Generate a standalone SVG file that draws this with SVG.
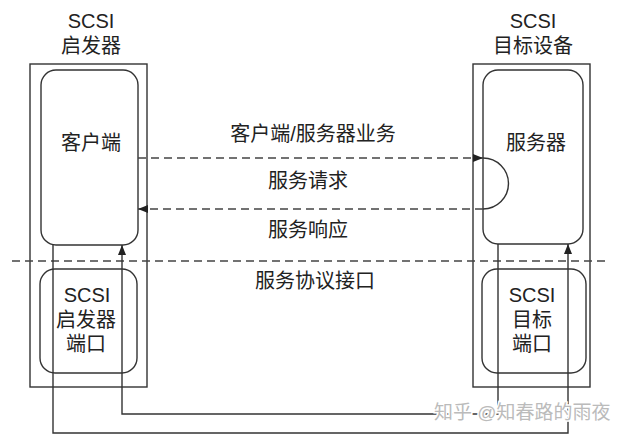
<svg xmlns="http://www.w3.org/2000/svg" width="621" height="438" viewBox="0 0 621 438">
<style>
text{font-family:"Liberation Sans","Noto Sans CJK SC",sans-serif;font-size:20px;fill:#222;text-anchor:middle}
.box{fill:none;stroke:#333;stroke-width:1.4}
.ln{fill:none;stroke:#333;stroke-width:1.4}
.dash{fill:none;stroke:#444;stroke-width:1.4;stroke-dasharray:8 5}
.wm{font-size:19px;fill:#bbb;stroke:#fff;stroke-width:3;paint-order:stroke;text-anchor:start}
</style>
<defs>
<marker id="ah" viewBox="0 0 10 8" refX="10" refY="4" markerWidth="10" markerHeight="8" markerUnits="userSpaceOnUse" orient="auto">
<path d="M0,0 L10,4 L0,8 Z" fill="#222"/>
</marker>
</defs>
<rect width="621" height="438" fill="#fff"/>
<g id="initiator">
<rect class="box" x="30" y="64" width="117" height="323"/>
<text x="91" y="28">SCSI</text>
<text x="91" y="53">启发器</text>
</g>
<g id="client">
<rect class="box" x="41" y="70" width="97" height="175" rx="15"/>
<text x="91" y="150">客户端</text>
</g>
<g id="initiator-port">
<rect class="box" x="40" y="269" width="97" height="104" rx="15"/>
<text x="87" y="302">SCSI</text>
<text x="86" y="327">启发器</text>
<text x="86" y="351">端口</text>
</g>
<g id="target">
<rect class="box" x="473" y="64" width="117" height="323"/>
<text x="533" y="28">SCSI</text>
<text x="533" y="53">目标设备</text>
</g>
<g id="server">
<rect class="box" x="483" y="70" width="100" height="174" rx="15"/>
<text x="536" y="150">服务器</text>
</g>
<g id="target-port">
<rect class="box" x="482" y="269" width="104" height="104" rx="15"/>
<text x="532" y="302">SCSI</text>
<text x="532" y="327">目标</text>
<text x="532" y="351">端口</text>
</g>
<g id="connectors">
<line class="dash" x1="138" y1="158" x2="483" y2="158" marker-end="url(#ah)"/>
<path class="ln" d="M483,158 A25.5,25.5 0 0 1 483,209"/>
<line class="dash" x1="483" y1="209" x2="138" y2="209" marker-end="url(#ah)"/>
<line class="dash" x1="12" y1="261" x2="608" y2="261"/>
<path class="ln" d="M53,245 V433 H568 V244" marker-end="url(#ah)"/>
<path class="ln" d="M498,244 V414 H122 V245" marker-end="url(#ah)"/>
</g>
<g id="labels">
<text x="313" y="141">客户端/服务器业务</text>
<text x="308" y="188">服务请求</text>
<text x="308" y="237">服务响应</text>
<text x="315" y="288">服务协议接口</text>
</g>
<text class="wm" x="434" y="419">知乎 @知春路的雨夜</text>
</svg>
